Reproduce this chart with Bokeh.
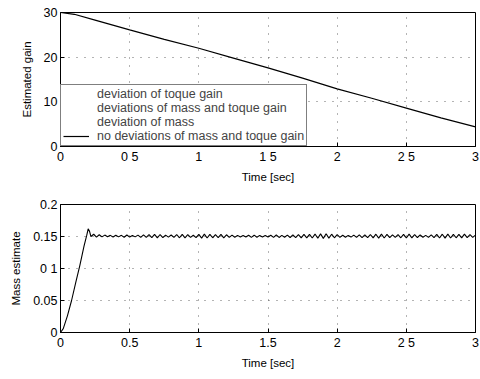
import numpy as np
from bokeh.plotting import figure
from bokeh.layouts import column
from bokeh.models import Legend, LegendItem, FixedTicker, Range1d
from bokeh.embed import file_html
from bokeh.resources import INLINE

# ---- data ----
t_top = [0, 0.1, 0.25, 0.5, 0.75, 1.0, 1.25, 1.5, 1.75, 2.0, 2.25, 2.5, 2.75, 3.0]
gain_est = [30, 29.6, 28.3, 26.1, 24.0, 22.0, 19.8, 17.6, 15.3, 12.9, 10.8, 8.6, 6.4, 4.4]

t_rise = [0, 0.02, 0.05, 0.08, 0.11, 0.14, 0.17, 0.19, 0.20, 0.21]
m_rise = [0, 0.006, 0.026, 0.05, 0.078, 0.105, 0.135, 0.152, 0.162, 0.158]
m_osc = [
    0.1500, 0.1535, 0.1491, 0.1527, 0.1494, 0.1522, 0.1496, 0.1518, 0.1492, 0.1520,
    0.1494, 0.1518, 0.1489, 0.1524, 0.1491, 0.1517, 0.1494, 0.1522, 0.1487, 0.1525,
    0.1485, 0.1529, 0.1482, 0.1532, 0.1480, 0.1531, 0.1484, 0.1522, 0.1491, 0.1524,
    0.1487, 0.1531, 0.1480, 0.1534, 0.1478, 0.1529, 0.1486, 0.1520, 0.1482, 0.1532,
    0.1475, 0.1538, 0.1477, 0.1534, 0.1480, 0.1529, 0.1482, 0.1532, 0.1478, 0.1527,
    0.1486, 0.1522, 0.1489, 0.1518, 0.1492, 0.1515, 0.1491, 0.1520, 0.1487, 0.1522,
    0.1489, 0.1517, 0.1492, 0.1515, 0.1491, 0.1520, 0.1487, 0.1524, 0.1485, 0.1518,
    0.1489, 0.1522, 0.1484, 0.1525, 0.1482, 0.1529, 0.1480, 0.1532, 0.1478, 0.1534,
    0.1476, 0.1538, 0.1473, 0.1541, 0.1471, 0.1543, 0.1475, 0.1536, 0.1480, 0.1529,
    0.1486, 0.1520, 0.1489, 0.1517, 0.1491, 0.1522, 0.1486, 0.1525, 0.1482, 0.1527,
    0.1484, 0.1531, 0.1478, 0.1536, 0.1475, 0.1538, 0.1477, 0.1532, 0.1482, 0.1525,
    0.1486, 0.1529, 0.1480, 0.1534, 0.1477, 0.1538, 0.1478, 0.1531, 0.1484, 0.1524,
    0.1489, 0.1518, 0.1487, 0.1525, 0.1482, 0.1532, 0.1477, 0.1536, 0.1475, 0.1538,
    0.1477, 0.1534, 0.1480, 0.1532, 0.1478, 0.1536, 0.1482, 0.1529, 0.1486, 0.1522,
]
t_osc = [round(0.22 + 0.02 * i, 2) for i in range(len(m_osc))]

legend_labels = ["deviation of toque gain",
                 "deviations of mass and toque gain",
                 "deviation of mass",
                 "no deviations of mass and toque gain"]

x_ticks = [0, 0.5, 1, 1.5, 2, 2.5, 3]
x_labels_top = ["0", "0 5", "1", "1 5", "2", "2 5", "3"]
x_labels_bot = ["0", "0.5", "1", "1.5", "2", "2 5", "3"]
y_ticks_top = [0, 10, 20, 30]
y_labels_top = ["0", "10", "20", "30"]
y_ticks_bot = [0, 0.05, 0.1, 0.15, 0.2]
y_labels_bot = ["0", "0.05", "0 1", "0.15", "0.2"]

FONT = "Liberation Sans"


def style(p, xt, xl, yt, yl, ylabel):
    p.xaxis.ticker = FixedTicker(ticks=xt)
    p.xaxis.major_label_overrides = {k: v for k, v in zip(xt, xl)}
    p.yaxis.ticker = FixedTicker(ticks=yt)
    p.yaxis.major_label_overrides = {k: v for k, v in zip(yt, yl)}
    for ax in (p.xaxis, p.yaxis):
        ax.major_tick_in = 4
        ax.major_tick_out = 0
        ax.minor_tick_line_color = None
        ax.axis_line_color = "black"
        ax.major_label_text_font = FONT
        ax.major_label_text_font_size = "12.5px"
        ax.major_label_text_color = "black"
        ax.axis_label_text_font = FONT
        ax.axis_label_text_font_size = "11.5px"
        ax.axis_label_text_font_style = "normal"
        ax.axis_label_text_color = "black"
    p.xaxis.axis_label = "Time [sec]"
    p.xaxis.axis_label_standoff = 4
    p.yaxis.axis_label = ylabel
    p.yaxis.axis_label_standoff = 8
    p.xaxis.major_label_standoff = 3
    p.yaxis.major_label_standoff = 3
    p.xgrid.ticker = FixedTicker(ticks=xt)
    p.ygrid.ticker = FixedTicker(ticks=yt)
    for g in (p.xgrid, p.ygrid):
        g.grid_line_color = "#444444"
        g.grid_line_dash = "1 7"
        g.grid_line_alpha = 0.8
    p.outline_line_color = "black"
    p.outline_line_width = 1
    p.background_fill_color = "white"
    p.border_fill_color = "white"


p1 = figure(width=480, height=190, output_backend="svg", toolbar_location=None,
            x_range=Range1d(0, 3), y_range=Range1d(0, 30),
            min_border_left=60, min_border_right=5, min_border_top=12, min_border_bottom=44)
style(p1, x_ticks, x_labels_top, y_ticks_top, y_labels_top, "Estimated gain")

r_hidden = []
for lbl in legend_labels[:3]:
    r_hidden.append(p1.line(t_top, gain_est, line_color="black", line_alpha=0.0))
r_main = p1.line(t_top, gain_est, line_color="black", line_width=1.2)

items = [LegendItem(label=l, renderers=[r]) for l, r in zip(legend_labels, r_hidden + [r_main])]
leg = Legend(items=items, location="bottom_left", margin=0, padding=2, spacing=0,
             label_text_font=FONT, label_text_font_size="12.5px", label_height=12,
             glyph_height=12, glyph_width=26, label_standoff=8,
             border_line_color="black", border_line_width=1,
             background_fill_color="white", background_fill_alpha=1.0)
p1.add_layout(leg)

p2 = figure(width=480, height=189, output_backend="svg", toolbar_location=None,
            x_range=Range1d(0, 3), y_range=Range1d(0, 0.2),
            min_border_left=60, min_border_right=5, min_border_top=14, min_border_bottom=47)
style(p2, x_ticks, x_labels_bot, y_ticks_bot, y_labels_bot, "Mass estimate")
p2.line(t_rise + t_osc, m_rise + m_osc, line_color="black", line_width=1.1)

layout = column(p1, p2, spacing=0)
open("out.html", "w").write(file_html(layout, INLINE))
